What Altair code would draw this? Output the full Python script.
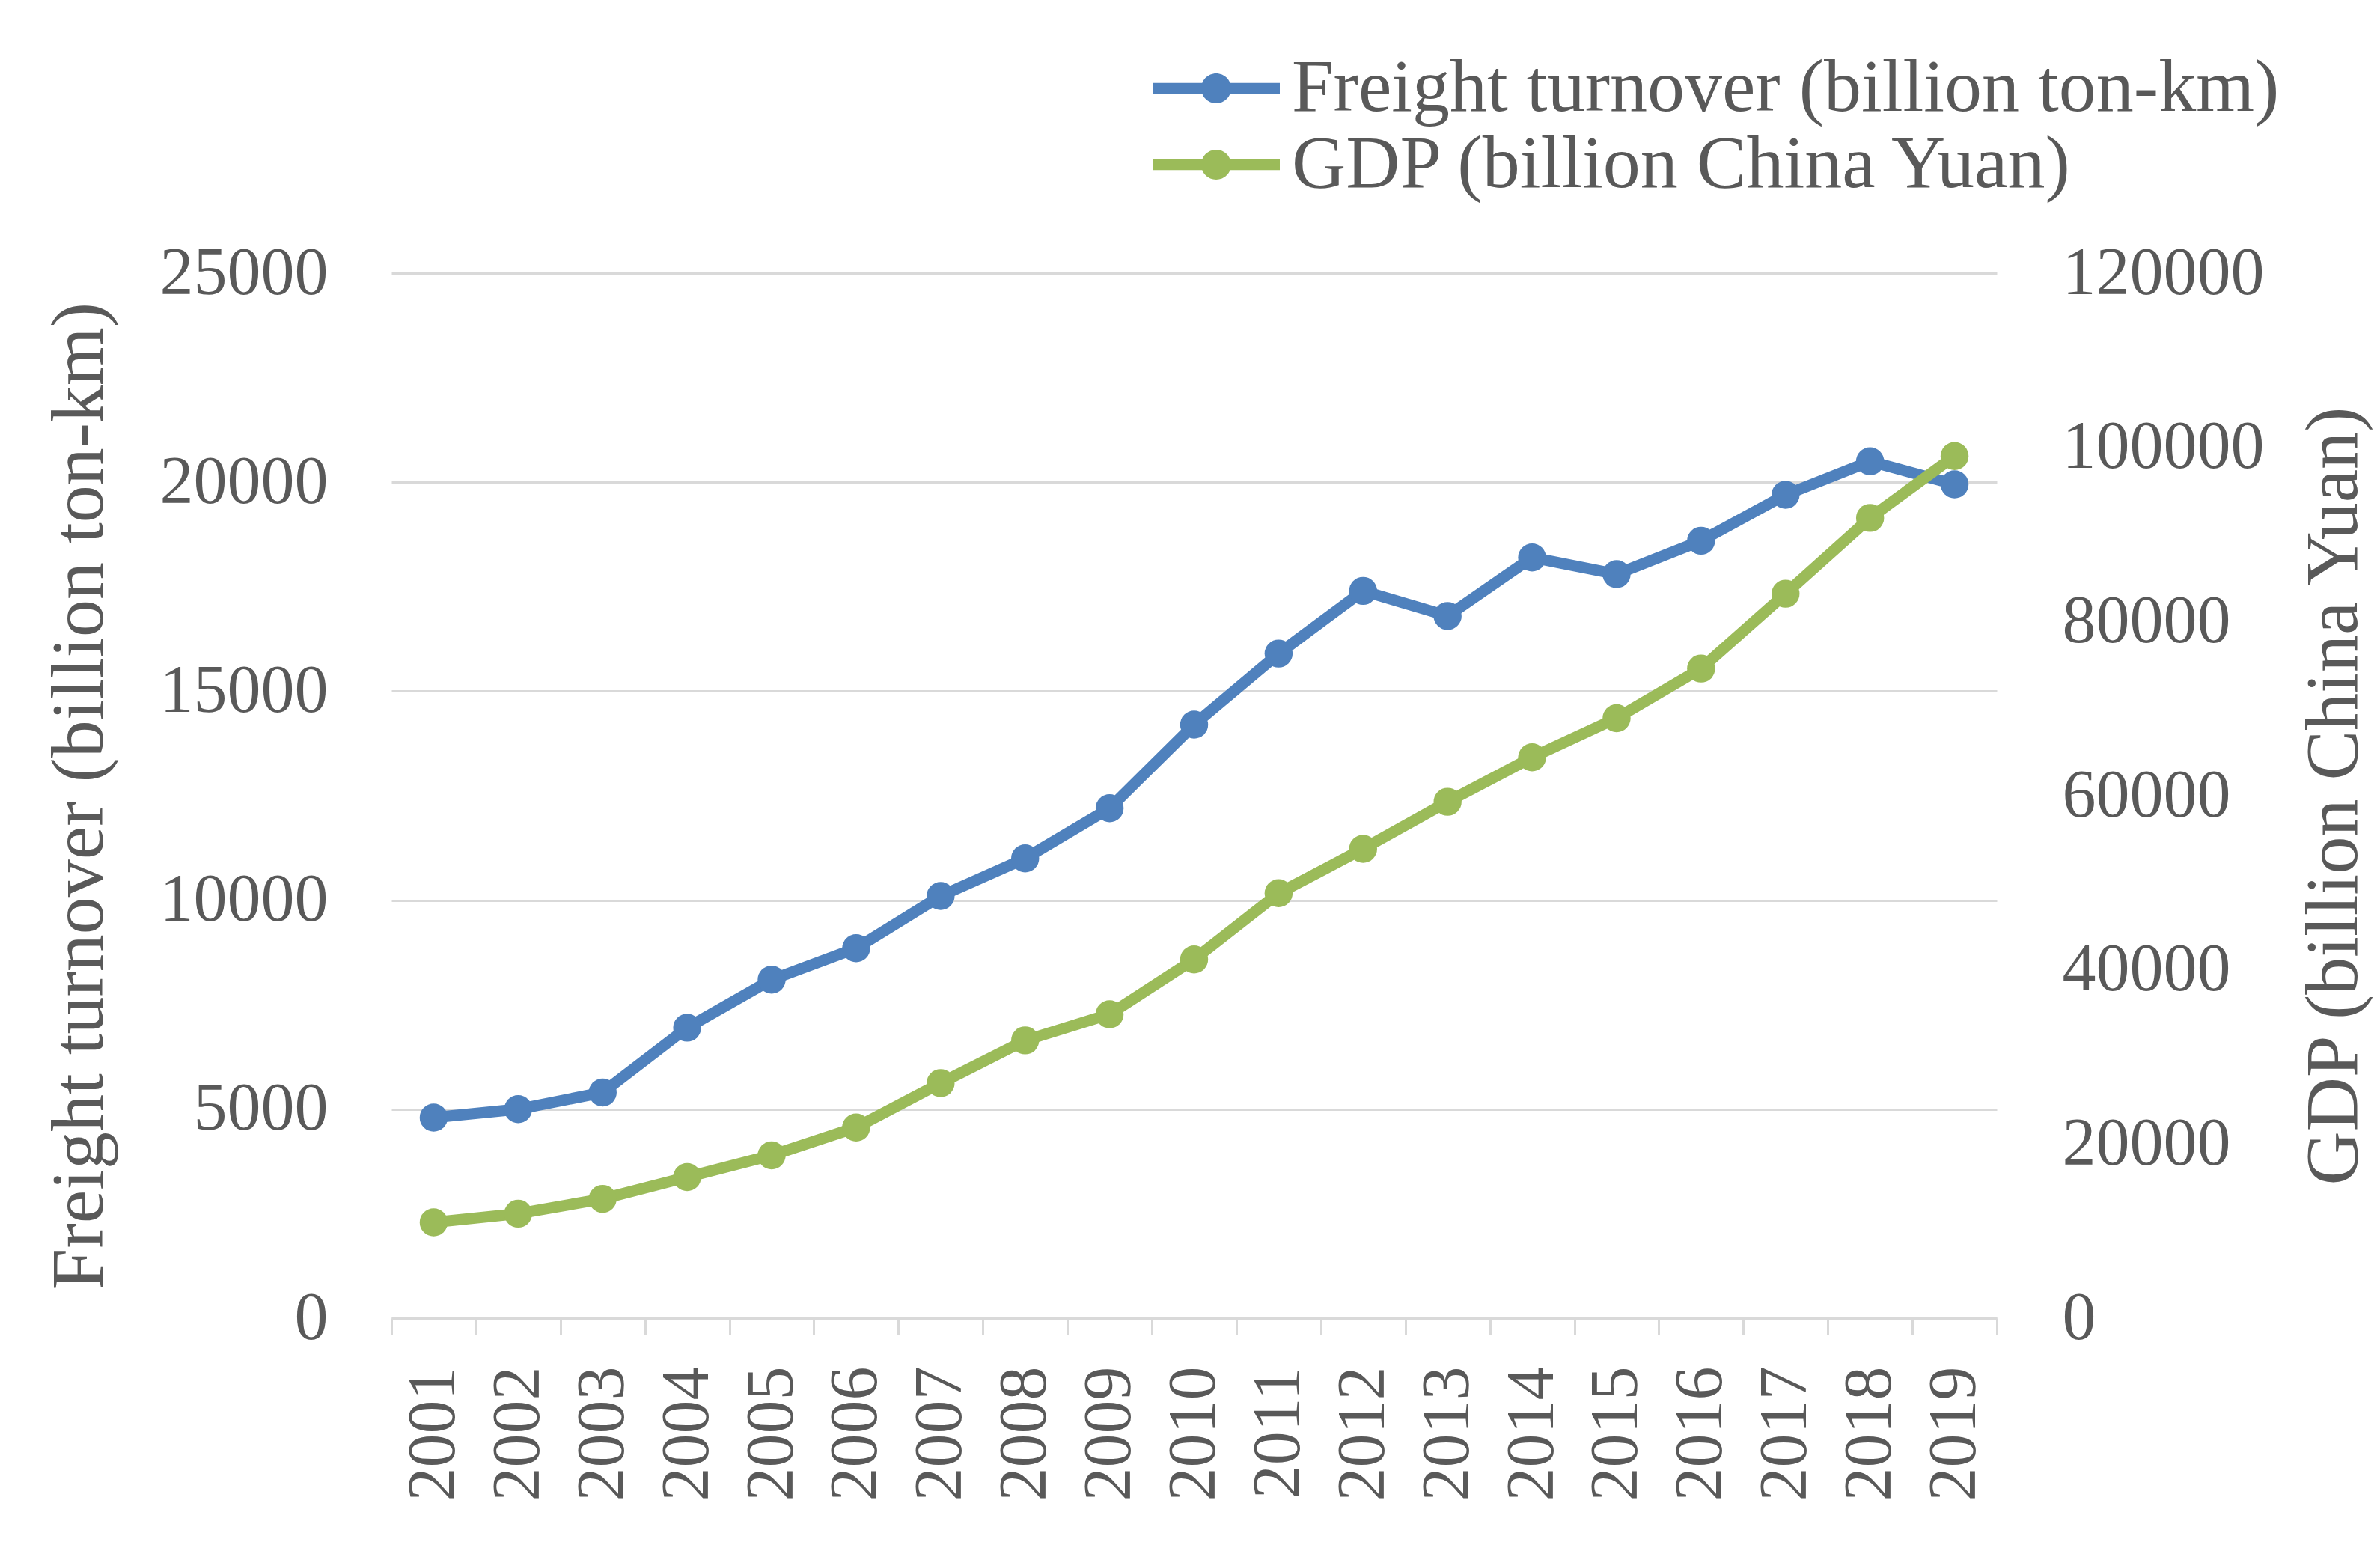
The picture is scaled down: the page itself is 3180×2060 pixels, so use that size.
import altair as alt
import pandas as pd

# Values
years = ["2001", "2002", "2003", "2004", "2005", "2006", "2007", "2008", "2009", "2010",
         "2011", "2012", "2013", "2014", "2015", "2016", "2017", "2018", "2019"]
freight = [4800, 5000, 5400, 6950, 8100, 8850, 10100, 11000, 12200, 14200,
           15900, 17400, 16800, 18200, 17800, 18600, 19700, 20500, 19950]
gdp = [11000, 12000, 13700, 16200, 18700, 21900, 27000, 31900, 34900, 41200,
       48800, 53900, 59300, 64400, 68900, 74600, 83200, 91900, 99000]

s_freight = "Freight turnover (billion ton-km)"
s_gdp = "GDP (billion China Yuan)"
c_freight = "#4f81bd"
c_gdp = "#9bbb59"
left_ticks = [0, 5000, 10000, 15000, 20000, 25000]
right_ticks = [0, 20000, 40000, 60000, 80000, 100000, 120000]

df = pd.DataFrame({
    "year": years * 2,
    "series": [s_freight] * len(years) + [s_gdp] * len(years),
    "value": freight + gdp,
})

FONT = "Liberation Serif"
GREY = "#595959"
LIGHT = "#d9d9d9"
W, H = 2145, 1396

# legend symbol: a short line with a dot in the middle
legend_symbol = ("M-2,-0.17H2V0.17H-2Z "
                 "M0.47,0A0.47,0.47,0,1,1,-0.47,0A0.47,0.47,0,1,1,0.47,0Z")

x_enc = alt.X(
    "year:O",
    bandPosition=0.5,
    scale=alt.Scale(type="band", paddingInner=0, paddingOuter=0),
    axis=alt.Axis(
        title=None, labelAngle=270, labelFont=FONT, labelFontSize=90,
        labelColor=GREY, labelPadding=42, labelLimit=1000, labelOverlap=False,
        tickBand="extent", tickSize=22,
        tickColor=LIGHT, tickWidth=3, domainColor=LIGHT, domainWidth=3,
    ),
)

color_enc = alt.Color(
    "series:N",
    scale=alt.Scale(domain=[s_freight, s_gdp], range=[c_freight, c_gdp]),
    legend=alt.Legend(
        title=None, orient="none", legendX=1052, legendY=-297, padding=0,
        symbolType=legend_symbol, symbolSize=7225, symbolStrokeWidth=0,
        symbolOpacity=1, labelFont=FONT, labelFontSize=100, labelColor=GREY,
        labelOffset=51, labelLimit=3000, rowPadding=2,
    ),
)

y_left = alt.Y(
    "value:Q",
    scale=alt.Scale(domain=[0, 25000]),
    axis=alt.Axis(
        values=left_ticks, format="d", title=s_freight, grid=True,
        gridColor=LIGHT, gridWidth=3, domain=False, ticks=False,
        labelFont=FONT, labelFontSize=90, labelColor=GREY, labelPadding=85,
        labelLimit=1000,
        titleFont=FONT, titleFontSize=100, titleFontWeight="normal",
        titleColor=GREY, titleAngle=270, titleX=-417, titleY=H / 2,
        titleAlign="center", titleBaseline="middle", titleLimit=3000,
    ),
)

y_right = alt.Y(
    "value:Q",
    scale=alt.Scale(domain=[0, 120000]),
    axis=alt.Axis(
        orient="right", values=right_ticks, format="d", title=s_gdp,
        grid=False, domain=False, ticks=False,
        labelFont=FONT, labelFontSize=90, labelColor=GREY, labelPadding=87,
        labelLimit=1000,
        titleFont=FONT, titleFontSize=100, titleFontWeight="normal",
        titleColor=GREY, titleAngle=270, titleX=450, titleY=H / 2,
        titleAlign="center", titleBaseline="middle", titleLimit=3000,
    ),
)


def series_layer(name, colour, y_enc):
    base = alt.Chart(df).transform_filter(alt.datum.series == name)
    line = base.mark_line(strokeWidth=15).encode(
        x=x_enc, y=y_enc, color=alt.value(colour)
    )
    dots = base.mark_circle(size=1400, opacity=1).encode(
        x=x_enc, y=y_enc, color=color_enc
    )
    return alt.layer(line, dots)


chart = (
    alt.layer(
        series_layer(s_freight, c_freight, y_left),
        series_layer(s_gdp, c_gdp, y_right),
    )
    .resolve_scale(y="independent")
    .properties(
        width=W,
        height=H,
        autosize=alt.AutoSizeParams(type="none"),
        padding={"left": 515, "top": 357, "right": 504, "bottom": 291},
        background="white",
    )
    .configure_view(stroke=None)
)

chart.save("out.html", embed_options={"renderer": "svg", "actions": False})
